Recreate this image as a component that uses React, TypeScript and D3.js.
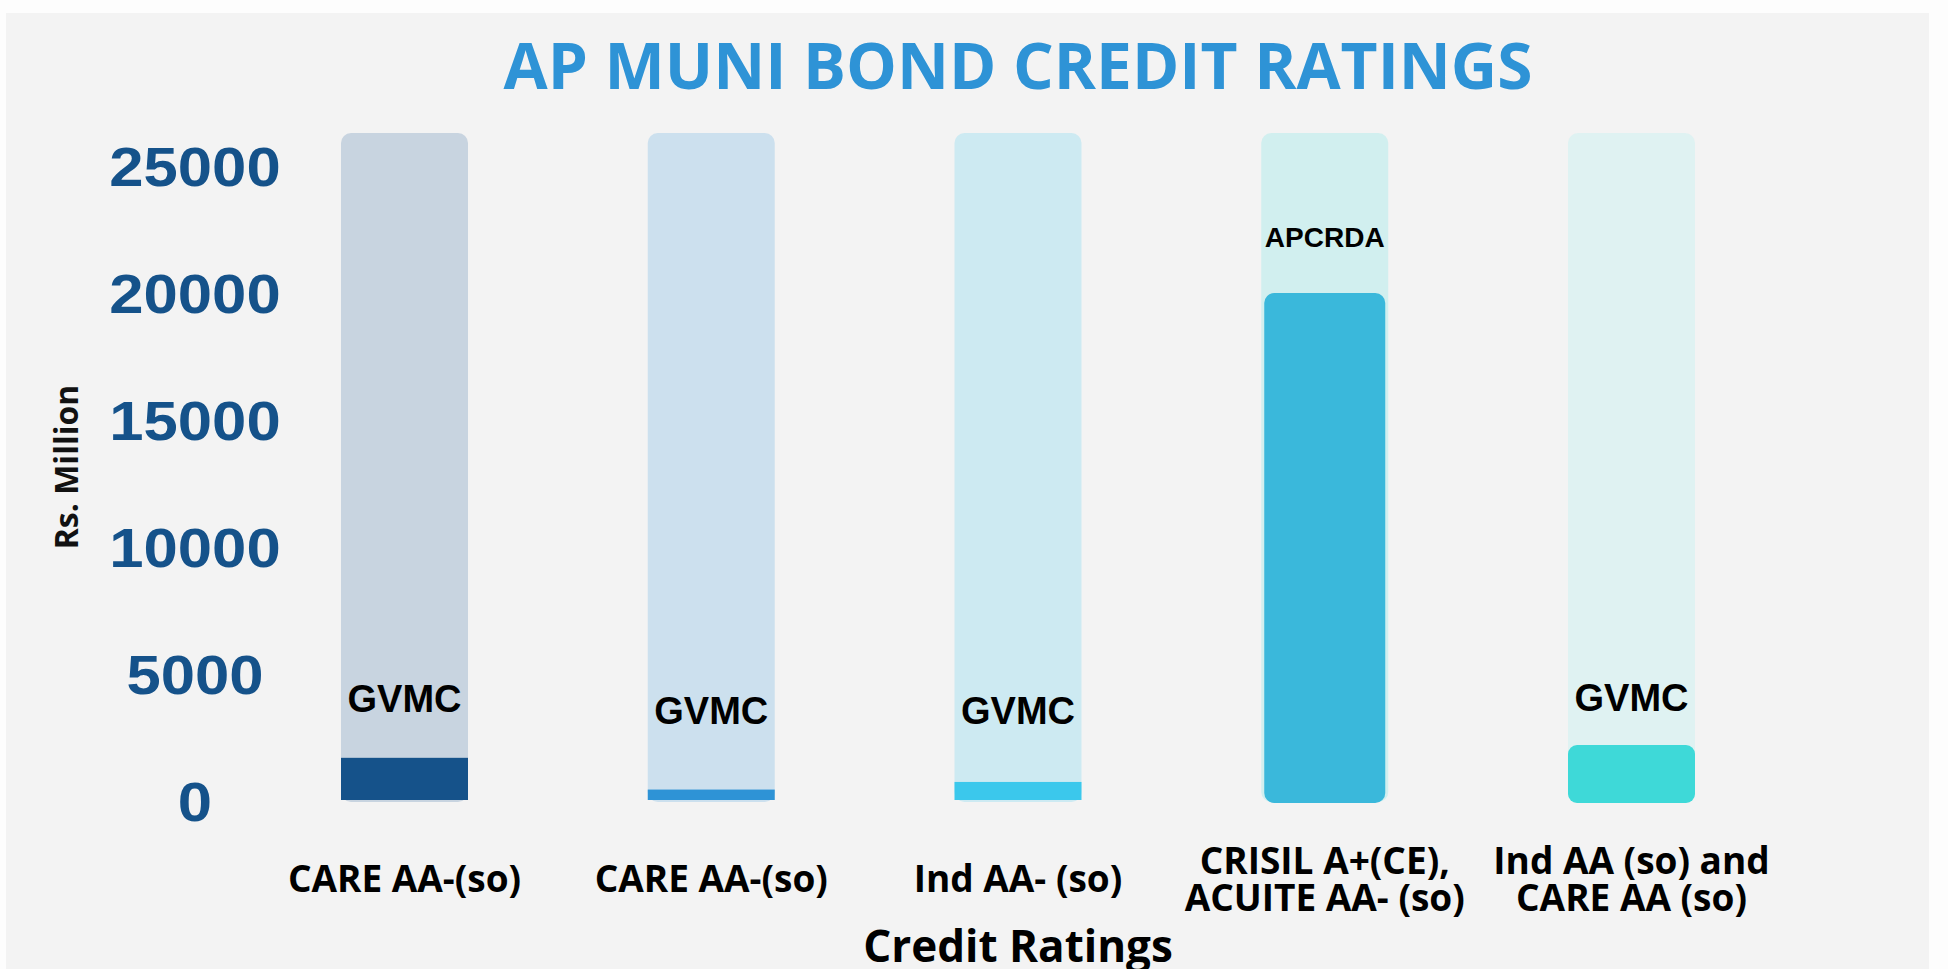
import React from "react";
import * as d3 from "d3";

// chart data
const ratings = [
  ["CARE AA-(so)"],
  ["CARE AA-(so)"],
  ["Ind AA- (so)"],
  ["CRISIL A+(CE),", "ACUITE AA- (so)"],
  ["Ind AA (so) and", "CARE AA (so)"],
];
const issuers = ["GVMC", "GVMC", "GVMC", "APCRDA", "GVMC"];
const amounts = [1700, 450, 750, 20000, 2200];
// where each issuer name sits, in Rs. Million
const issuerLabelAt = [4030, 3560, 3560, 22200, 4050];
const yTicks = [0, 5000, 10000, 15000, 20000, 25000];
const trackMax = 26300;

// styles
const trackColors = ["#c8d4e0", "#cce0ee", "#cdeaf2", "#d1efef", "#dff2f2"];
const barColors = ["#15528a", "#2e93d6", "#3bc8ec", "#3ab8db", "#3ed9d8"];
const barRadius = [0, 0, 0, 10, 9];
const barInset = [0, 0, 0, 3, 0];
const issuerSize = [38, 38, 38, 28, 38];

const W = 1948;
const H = 969;

export default function App() {
  const ids = ratings.map((_, i) => String(i));

  const x = d3.scaleBand()
    .domain(ids)
    .range([341, 1695])
    .paddingInner(0.586)
    .paddingOuter(0);

  const y = d3.scaleLinear()
    .domain([0, 25000])
    .range([801, 166]);

  const midX = (x.range()[0] + x.range()[1]) / 2;
  const openSans = "'Open Sans', 'DejaVu Sans', sans-serif";
  const arial = "'Liberation Sans', Arial, sans-serif";

  return (
    <svg
      width={W}
      height={H}
      style={{ position: "absolute", left: 0, top: 0, display: "block" }}
    >
      <rect x={0} y={0} width={W} height={H} fill="#fdfdfd" />
      <rect x={6} y={13} width={1923} height={H - 13} fill="#f3f3f3" />

      {/* title */}
      <text
        x={midX}
        y={89}
        textAnchor="middle"
        fontFamily={openSans}
        fontWeight={700}
        fontSize={64}
        fill="#2e93d6"
      >
        AP MUNI BOND CREDIT RATINGS
      </text>

      {/* y axis labels */}
      {yTicks.map((t) => (
        <text
          key={t}
          transform={`translate(195,${y(t)}) scale(1.1,1)`}
          textAnchor="middle"
          dominantBaseline="central"
          fontFamily={arial}
          fontWeight={700}
          fontSize={56}
          fill="#15528a"
        >
          {t}
        </text>
      ))}

      <text
        transform={`translate(65,467) rotate(-90)`}
        textAnchor="middle"
        dominantBaseline="central"
        fontFamily={openSans}
        fontWeight={700}
        fontSize={32}
        fill="#111"
      >
        Rs. Million
      </text>

      {/* tracks and bars */}
      {ids.map((id, i) => {
        const bx = x(id)!;
        const bw = x.bandwidth();
        const top = y(amounts[i]);
        return (
          <g key={id}>
            <rect
              x={bx}
              y={y(trackMax)}
              width={bw}
              height={y(0) + 1 - y(trackMax)}
              rx={10}
              fill={trackColors[i]}
            />
            <rect
              x={bx + barInset[i]}
              y={top}
              width={bw - 2 * barInset[i]}
              height={y(0) - top + (barRadius[i] ? 2 : -1)}
              rx={barRadius[i]}
              fill={barColors[i]}
            />
            <text
              x={bx + bw / 2}
              y={y(issuerLabelAt[i])}
              textAnchor="middle"
              dominantBaseline="central"
              fontFamily={arial}
              fontWeight={700}
              fontSize={issuerSize[i]}
              fill="#000"
            >
              {issuers[i]}
            </text>
          </g>
        );
      })}

      {/* x axis labels */}
      {ids.map((id, i) => {
        const lines = ratings[i];
        const n = lines.length;
        return (
          <text
            key={id}
            textAnchor="middle"
            fontFamily={openSans}
            fontWeight={700}
            fontSize={37}
            fill="#000"
          >
            {lines.map((l, j) => (
              <tspan
                key={j}
                x={x(id)! + x.bandwidth() / 2}
                y={892 + (j - (n - 1) / 2) * 37}
              >
                {l}
              </tspan>
            ))}
          </text>
        );
      })}

      <text
        x={midX}
        y={962}
        textAnchor="middle"
        fontFamily={openSans}
        fontWeight={700}
        fontSize={44}
        fill="#000"
      >
        Credit Ratings
      </text>
    </svg>
  );
}
